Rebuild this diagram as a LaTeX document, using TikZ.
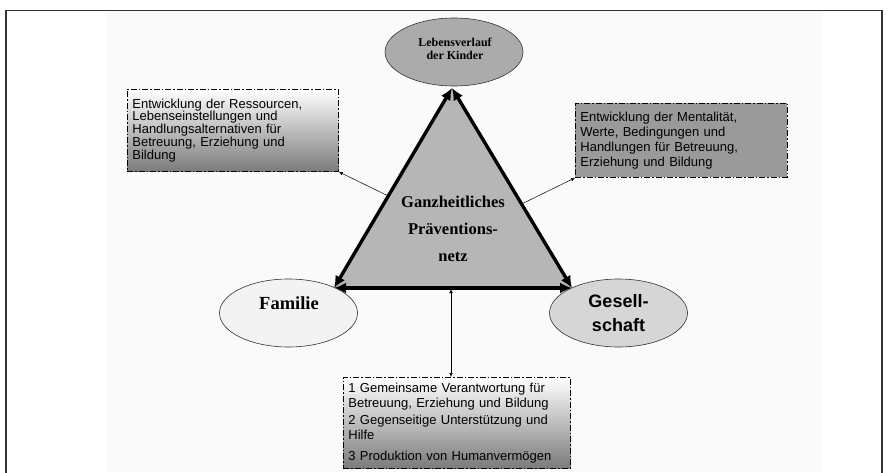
\documentclass[tikz,border=0pt]{standalone}
\usepackage{fontspec}
\setmainfont{Liberation Serif}
\setsansfont{Liberation Sans}
\usetikzlibrary{arrows.meta,calc,shapes.geometric}
\definecolor{ellA}{HTML}{ABABAB}
\definecolor{triF}{HTML}{B6B6B6}
\definecolor{gesF}{HTML}{D6D6D6}
\definecolor{famF}{HTML}{F3F3F3}
\definecolor{rboxF}{HTML}{9A9A9A}
\definecolor{panel}{HTML}{FAFAFA}
\definecolor{frameC}{HTML}{333333}
\tikzset{
  ell/.style={ellipse, draw=black!80, line width=0.6pt, inner sep=0pt, minimum width=138pt, minimum height=68pt},
  serifb/.style={font=\bfseries, align=center, inner sep=0pt},
  dbox/.style={draw=black, line width=0.8pt, dash pattern=on 6pt off 2pt on 1.5pt off 2pt,
     anchor=north west, align=left, inner xsep=5pt, inner ysep=0pt, font=\sffamily},
  gradbox/.style={top color=white, middle color=black!10, bottom color=black!52},
  bigarr/.style={line width=3.4pt, {Latex[length=12pt,width=11pt]}-{Latex[length=12pt,width=11pt]}},
  thinarr/.style={line width=0.5pt, -{Latex[length=4pt,width=3.5pt]}},
  thinarr2/.style={line width=0.5pt, {Latex[length=4pt,width=3.5pt]}-{Latex[length=4pt,width=3.5pt]}}
}
\begin{document}
\begin{tikzpicture}[x=1pt,y=-1pt]
\useasboundingbox (0,0) rectangle (887,472);
\fill[white] (0,0) rectangle (887,472);
\fill[panel] (107,11) rectangle (822,472);
\draw[frameC, line width=1.5pt] (6,480) -- (6,10.5) -- (882,10.5) -- (882,480);

% triangle
\coordinate (A) at (452,88);
\coordinate (L) at (334,288);
\coordinate (R) at (572,288);
\fill[triF] (A) -- (L) -- (R) -- cycle;
\draw[bigarr] (A) -- (L);
\draw[bigarr] (A) -- (R);
\draw[bigarr] (L) -- (R);

\node[serifb, font=\fontsize{16.5}{27}\selectfont\bfseries] (tri) at (453,229) {Ganzheitliches\\Präventions-\\netz};

% ellipses
\node[ell, fill=ellA] (top) at (454,52) {};
\node[serifb, font=\fontsize{12}{13}\selectfont\bfseries] (toptxt) at (455,49) {Lebensverlauf\\der Kinder};
\node[ell, fill=famF] (fam) at (288.5,313) {};
\node[serifb, font=\fontsize{18.5}{22}\selectfont\bfseries] (famtxt) at (289,303) {Familie};
\node[ell, fill=gesF, font=\sffamily\bfseries\fontsize{18}{24}\selectfont, align=center] (ges) at (618.5,313) {Gesell-\\schaft};

% boxes
\node[dbox, gradbox, minimum width=211pt, minimum height=82pt, text width=201pt,
      font=\sffamily\fontsize{13}{12.8}\selectfont] (lbox) at (127,89)
  {Entwicklung der Ressourcen,\\Lebenseinstellungen und\\Handlungsalternativen für\\Betreuung, Erziehung und\\Bildung};
\node[dbox, fill=rboxF, minimum width=212pt, minimum height=74pt, text width=202pt,
      font=\sffamily\fontsize{13}{15}\selectfont] (rbox) at (575,103)
  {Entwicklung der Mentalität,\\Werte, Bedingungen und\\Handlungen für Betreuung,\\Erziehung und Bildung};
\node[dbox, gradbox, minimum width=227pt, minimum height=91pt, text width=217pt,
      font=\sffamily\fontsize{13}{15}\selectfont] (bbox) at (343,377)
  {1 Gemeinsame Verantwortung für\\Betreuung, Erziehung und Bildung\\[2pt]2 Gegenseitige Unterstützung und\\Hilfe\\[6pt]3 Produktion von Humanvermögen};

% thin connectors
\coordinate (pl) at ($(A)!0.54!(L)$);
\coordinate (pr) at ($(A)!0.58!(R)$);
\coordinate (pb) at (451,289);
\draw[thinarr] (pl) -- (lbox.south east);
\draw[thinarr] (pr) -- (rbox.south west);
\draw[thinarr2] (pb) -- (pb |- bbox.north);
\end{tikzpicture}
\end{document}
